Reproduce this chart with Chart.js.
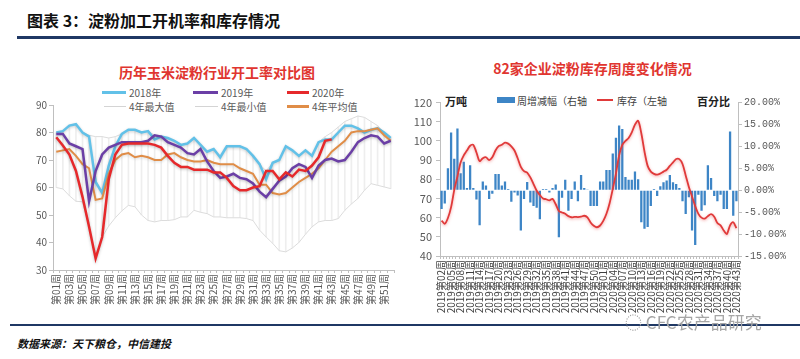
<!DOCTYPE html>
<html>
<head>
<meta charset="utf-8">
<script src="https://cdn.jsdelivr.net/npm/chart.js@4.4.1/dist/chart.umd.min.js"></script>
<style>
  body { margin: 0; width: 800px; height: 359px; background: #fff; position: relative; overflow: hidden;
         font-family: "Noto Sans CJK SC", "DejaVu Sans", sans-serif; }
  .abs { position: absolute; white-space: nowrap; }
  .rule { position: absolute; background: #1f3864; }
  .lg { position: absolute; font-size: 10px; color: #595959; line-height: 12px; white-space: nowrap; }
  .lg i { position: absolute; display: block; }
</style>
</head>
<body>

<div class="abs" style="left:27px; top:8px; font-size:16px; font-weight:bold; color:#111;">图表 3：淀粉加工开机率和库存情况</div>
<div class="rule" style="left:17px; top:36px; width:783px; height:3px;"></div>

<div class="abs" style="left:20px; width:394px; top:62px; text-align:center; font-size:14px; font-weight:bold; color:#e0352f;">历年玉米淀粉行业开工率对比图</div>
<div id="legendLeft"></div>
<div class="abs" style="left:20px; top:95px;"><canvas id="rateChart" width="385" height="225"></canvas></div>

<div class="abs" style="left:405px; width:375px; top:58px; text-align:center; font-size:14px; font-weight:bold; color:#e0352f;">82家企业淀粉库存周度变化情况</div>
<div class="abs" style="left:445px; top:93px; font-size:11px; font-weight:bold; color:#222;">万吨</div>
<div class="abs" style="left:497px; top:97px; width:18px; height:6px; background:#3d85c6;"></div>
<div class="abs" style="left:517px; top:93px; font-size:10px; color:#404040;">周增减幅（右轴</div>
<div class="abs" style="left:597px; top:99px; width:16px; height:2px; background:#e03a3a;"></div>
<div class="abs" style="left:617px; top:93px; font-size:10px; color:#404040;">库存（左轴</div>
<div class="abs" style="left:697px; top:93px; font-size:11px; font-weight:bold; color:#222;">百分比</div>
<div class="abs" style="left:405px; top:92px;"><canvas id="stockChart" width="395" height="230"></canvas></div>

<div class="rule" style="left:10px; top:324px; width:790px; height:2px;"></div>
<div class="abs" style="left:625px; top:309px; font-size:17px; color:#a6a6a6;">◌ CFC农产品研究</div>
<div class="abs" style="left:17px; top:335px; font-size:11px; font-weight:bold; font-style:italic; color:#111;">数据来源：天下粮仓，中信建投</div>

<script>
// ---- 左图：开工率（周） ----
const rateWeeks = ['第01周','第02周','第03周','第04周','第05周','第06周','第07周','第08周','第09周','第10周',
  '第11周','第12周','第13周','第14周','第15周','第16周','第17周','第18周','第19周','第20周',
  '第21周','第22周','第23周','第24周','第25周','第26周','第27周','第28周','第29周','第30周',
  '第31周','第32周','第33周','第34周','第35周','第36周','第37周','第38周','第39周','第40周',
  '第41周','第42周','第43周','第44周','第45周','第46周','第47周','第48周','第49周','第50周',
  '第51周','第52周'];

const rate2018 = [80, 80.5, 82.5, 83, 80, 78.5, 62, 58, 68, 75, 79.5, 81, 81, 80, 80.5, 77.5, 78.5, 78, 77, 75.5,
  76, 78, 75.5, 73, 74, 71, 75, 75, 75, 74, 71.5, 68.5, 63, 69, 70, 75, 73.5, 71.5, 73.5, 71.5,
  76.5, 77.5, 77.5, 80, 82.5, 82.5, 81.5, 80, 81, 81.5, 80, 78];
const rate2019 = [79.5, 79.5, 76, 75, 74, 55, 66, 72, 74.5, 75.5, 76.5, 76.5, 76.5, 76.5, 77, 79, 78.5, 76.5, 75.5, 74.5,
  72.5, 72, 74, 69.5, 66, 63.5, 64, 65, 63.5, 63, 61.5, 58.5, 56.5, 59.5, 62.5, 64, 67, 68.5, 67.5, 63.5,
  68, 70, 70.5, 69.5, 70, 73, 76.5, 78, 79, 78.5, 76, 77];
const rate2020 = [78.3, 75.3, 72, 66, 56.6, 45.7, 34.2, 42, 63, 72, 75.5, 76, 76, 76, 76, 75.5, 74.5, 71.5, 69, 67.5,
  67.5, 66.5, 66.5, 66.5, 65.5, 65.5, 63.5, 60.5, 59, 59, 60, 60.5, 66, 66, 63, 65.5, 64, 66.5, 66, 68,
  71, 77, 77.5, null, null, null, null, null, null, null, null, null];
const rateMax = [80, 80.5, 82.5, 83, 80, 79, 78.5, 78.5, 78, 78.5, 79.5, 81, 81, 80, 80.5, 79, 78.5, 78, 77, 75.5,
  76, 78, 75.5, 73, 74, 71, 75, 75, 75, 74, 71.5, 68.5, 66, 69, 70, 75, 73.5, 71.5, 73.5, 71.5,
  76.5, 78.5, 80, 82, 84, 85, 86, 85.5, 84, 82.5, 80, 78];
const rateMin = [60, 59.5, 57, 55, 54.8, 45.7, 34.2, 42, 46, 49, 51.5, 53.5, 53, 50, 48, 47.5, 48, 48, 48.3, 49.3,
  49.3, 51.7, 51, 50.5, 49.3, 49.3, 49, 49, 49, 48.7, 48, 44.5, 42, 39.7, 37, 36.6, 38, 40, 43, 45.7,
  47.5, 48, 48, 48.7, 51.7, 54, 56, 59, 61.4, 60.8, 60.2, 59.6];
const rateAvg = [73, 73.5, 74, 71.5, 68.5, 67, 55.5, 56, 65, 70, 72, 72.5, 71, 71.5, 71, 70, 70, 72, 72.5, 71,
  70, 69.5, 69.5, 70, 69, 68.5, 68.5, 68.5, 67, 66, 65, 61, 61, 58, 57.5, 58, 60, 62, 63.5, 65,
  67, 70, 73, 75, 77, 80, 80.5, 80.5, 81, 81.5, 79, 77];

// ---- 右图：82家企业淀粉库存 ----
const stockWeeks = ['2019第02周','2019第03周','2019第04周','2019第05周','2019第06周','2019第07周','2019第08周','2019第09周',
  '2019第10周','2019第11周','2019第12周','2019第13周','2019第14周','2019第15周','2019第16周','2019第17周','2019第18周',
  '2019第19周','2019第20周','2019第21周','2019第22周','2019第23周','2019第24周','2019第25周','2019第26周','2019第27周',
  '2019第28周','2019第29周','2019第30周','2019第31周','2019第32周','2019第33周','2019第34周','2019第35周','2019第36周',
  '2019第37周','2019第38周','2019第39周','2019第40周','2019第41周','2019第42周','2019第43周','2019第44周','2019第45周',
  '2019第46周','2019第47周','2019第48周','2019第49周','2019第50周','2019第51周','2019第52周',
  '2020第01周','2020第02周','2020第03周','2020第04周','2020第05周','2020第06周','2020第07周','2020第08周','2020第09周',
  '2020第10周','2020第11周','2020第12周','2020第13周','2020第14周','2020第15周','2020第16周','2020第17周','2020第18周',
  '2020第19周','2020第20周','2020第21周','2020第22周','2020第23周','2020第24周','2020第25周','2020第26周','2020第27周',
  '2020第28周','2020第29周','2020第30周','2020第31周','2020第32周','2020第33周','2020第34周','2020第35周','2020第36周',
  '2020第37周','2020第38周','2020第39周','2020第40周','2020第41周','2020第42周','2020第43周'];

const stockLevel = [58.5, 56.8, 59.8, 65.5, 74.5, 81.5, 88.8, 92.5, 95, 97.5,
  98, 94, 89.5, 91, 91.5, 90, 91.5, 95, 97.3, 98,
  99.1, 98.6, 97.2, 95, 91, 86.5, 84.3, 83.5, 81, 77.5,
  74, 71.8, 70, 69.6, 69, 69.8, 67, 63.5, 62.7, 62,
  60.8, 60.2, 60.4, 60.3, 60.5, 61, 60.2, 57.5, 55.8, 55,
  55.9, 58.3, 62, 67.5, 75, 83, 92.5, 98, 100, 101.5,
  104.5, 108.5, 110.5, 104, 94.5, 87, 84, 82.8, 82.4, 83,
  84, 85, 87, 88.8, 90.6, 90.5, 88, 82, 76, 71,
  66, 62, 60, 59.5, 60.8, 61.8, 60.5, 57.2, 56, 53.3,
  51.5, 56, 57.6, 54.5];
const stockChange = [-4.3, -3.0, 5.0, 13.2, 7.2, 14.1, 3.9, 6.5, 0.5, 5.7,
  0.5, -2.1, -8.0, 2.0, 1.1, -2.0, -0.8, 3.7, 3.7, 1.1,
  2.0, 0.3, -2.6, -0.5, -1.2, -9.2, -2.0, 1.9, -2.8, -3.6,
  -4.0, -6.6, 0.3, 0.3, -0.5, 0.5, 1.3, -10.7, -1.7, 2.4,
  -4.7, -2.0, 2.0, -2.5, 3.5, 0.5, 0.2, -3.6, -3.6, -3.6,
  2.0, 2.0, 4.6, 4.6, 8.4, 12.0, 14.8, 14.0, 3.0, 2.4,
  2.4, 4.3, 2.5, -7.3, -8.8, -8.4, -3.6, 0.3, -1.3, 0.9,
  1.8, 2.2, 3.5, 1.8, 1.4, 0.5, -2.5, -5.4, -1.6, -9.2,
  -12.5, -1.0, -4.7, -3.4, 5.7, 2.8, -1.3, -2.5, -1.0, -4.3,
  -4.3, 13.4, -5.8, -2.5];

Chart.defaults.font.family = '"Noto Sans CJK SC", "DejaVu Sans", sans-serif';
Chart.defaults.color = '#595959';

// 线条阴影（原图有淡淡的光晕）
const shadowPlugin = {
  id: 'lineShadow',
  beforeDatasetDraw(chart, args) {
    const ds = chart.data.datasets[args.index];
    if (!ds.shadow) return;
    const ctx = chart.ctx;
    ctx.save();
    ctx.shadowColor = ds.shadow;
    ctx.shadowBlur = 3;
    ctx.shadowOffsetY = 1;
  },
  afterDatasetDraw(chart, args) {
    const ds = chart.data.datasets[args.index];
    if (ds.shadow) chart.ctx.restore();
  }
};

const axisGray = '#bfbfbf';

// 图例（左图）
const legendItems = [
  { text: '2018年', color: '#62c1e8', x: 102, y: 87, w: 24, h: 3 },
  { text: '2019年', color: '#6b3fa6', x: 193, y: 87, w: 25, h: 3 },
  { text: '2020年', color: '#e6292b', x: 287, y: 87, w: 22, h: 3 },
  { text: '4年最大值', color: '#d4d4d4', x: 104, y: 101, w: 22, h: 1 },
  { text: '4年最小值', color: '#d4d4d4', x: 195, y: 101, w: 23, h: 1 },
  { text: '4年平均值', color: '#e08d47', x: 287, y: 101, w: 22, h: 3 }
];
document.getElementById('legendLeft').innerHTML = legendItems.map(it =>
  `<div class="lg" style="left:${it.x}px; top:${it.y}px; padding-left:${it.w + 3}px;">` +
  `<i style="left:0; top:${6 - Math.ceil(it.h / 2)}px; width:${it.w}px; height:${it.h}px; background:${it.color};"></i>${it.text}</div>`
).join('');

new Chart(document.getElementById('rateChart'), {
  data: {
    labels: rateWeeks,
    datasets: [
      { type: 'line', label: '2020年', data: rate2020, borderColor: '#e6292b', borderWidth: 2.5, pointRadius: 0, shadow: 'rgba(0,0,0,0.25)', order: 0 },
      { type: 'line', label: '2019年', data: rate2019, borderColor: '#6b3fa6', borderWidth: 2.5, pointRadius: 0, shadow: 'rgba(0,0,0,0.25)', order: 1 },
      { type: 'line', label: '2018年', data: rate2018, borderColor: '#62c1e8', borderWidth: 2.5, pointRadius: 0, shadow: 'rgba(0,0,0,0.2)', order: 3 },
      { type: 'line', label: '4年平均值', data: rateAvg, borderColor: '#e08d47', borderWidth: 2, pointRadius: 0, shadow: 'rgba(0,0,0,0.15)', order: 2 },
      { type: 'line', label: '4年最大值', data: rateMax, borderColor: '#dcdcdc', borderWidth: 1, pointRadius: 0, order: 4 },
      { type: 'line', label: '4年最小值', data: rateMin, borderColor: '#dcdcdc', borderWidth: 1, pointRadius: 0, order: 5 },
      { type: 'bar', label: 'range', data: rateMax.map((m, i) => [rateMin[i], m]),
        backgroundColor: 'rgba(205,205,205,0.35)', barThickness: 1, order: 6 }
    ]
  },
  options: {
    responsive: false,
    animation: false,
    layout: { padding: { left: 0, right: 11, top: 10, bottom: 5 } },
    plugins: { legend: { display: false }, tooltip: { enabled: false } },
    scales: {
      x: {
        offset: true,
        grid: { drawOnChartArea: false, tickLength: 3, color: axisGray },
        border: { color: axisGray },
        ticks: { autoSkip: false, minRotation: 90, maxRotation: 90, padding: 1, font: { size: 10 }, color: '#595959',
          callback: (v, i) => (i % 2 === 0 ? rateWeeks[i] : '') },
        afterFit: s => { s.height = 45; }
      },
      y: {
        min: 30, max: 90,
        grid: { drawOnChartArea: false, tickLength: 4, color: axisGray },
        border: { color: axisGray },
        ticks: { stepSize: 10, padding: 2, font: { size: 10 }, color: '#595959' },
        afterFit: s => { s.width = 33; }
      }
    }
  },
  plugins: [shadowPlugin]
});

new Chart(document.getElementById('stockChart'), {
  data: {
    labels: stockWeeks,
    datasets: [
      { type: 'line', label: '库存（左轴', data: stockLevel, yAxisID: 'yL', borderColor: '#e03a3a', borderWidth: 1.8,
        pointRadius: 0, tension: 0.3, shadow: 'rgba(235,90,90,0.55)', order: 0 },
      { type: 'bar', label: '周增减幅（右轴', data: stockChange, yAxisID: 'yR', backgroundColor: '#3d85c6',
        categoryPercentage: 1, barPercentage: 0.72, order: 1 }
    ]
  },
  options: {
    responsive: false,
    animation: false,
    layout: { padding: { left: 0, right: 0, top: 8, bottom: 4 } },
    plugins: { legend: { display: false }, tooltip: { enabled: false } },
    scales: {
      x: {
        grid: { drawOnChartArea: false, tickLength: 3, color: axisGray },
        border: { color: axisGray },
        ticks: { autoSkip: false, minRotation: 90, maxRotation: 90, padding: 1, font: { size: 10 }, color: '#404040',
          callback: (v, i) => (i % 3 === 0 ? stockWeeks[i] : '') },
        afterFit: s => { s.height = 62; }
      },
      yL: {
        position: 'left', min: 40, max: 120,
        grid: { drawOnChartArea: false, tickLength: 4, color: axisGray },
        border: { color: axisGray },
        ticks: { stepSize: 10, padding: 4, font: { size: 11 }, color: '#595959' },
        afterFit: s => { s.width = 35; }
      },
      yR: {
        position: 'right', min: -15, max: 20,
        grid: { drawOnChartArea: false, tickLength: 4, color: axisGray },
        border: { color: axisGray },
        ticks: { stepSize: 5, padding: 2, font: { size: 10, family: '"Liberation Mono", monospace' }, color: '#595959',
          callback: v => v.toFixed(2) + '%' },
        afterFit: s => { s.width = 62; }
      }
    }
  },
  plugins: [shadowPlugin]
});
</script>
</body>
</html>
